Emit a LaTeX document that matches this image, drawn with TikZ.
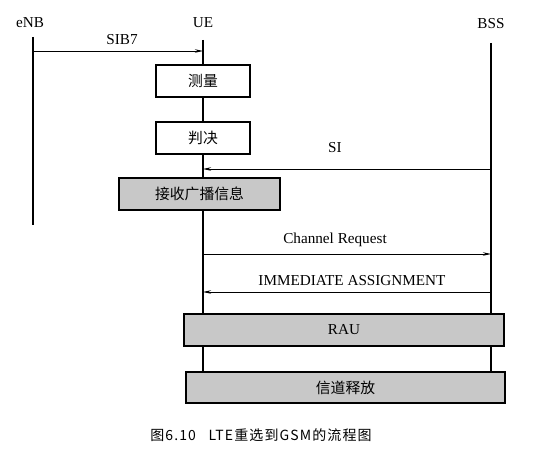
\documentclass[tikz,border=0pt]{standalone}
\usepackage{fontspec}
\setmainfont{Liberation Serif}
\newfontfamily\cjk{Noto Sans CJK SC}
\newfontfamily\capfont[LetterSpace=8]{Noto Sans CJK SC}
\usetikzlibrary{arrows.meta}
\definecolor{boxgray}{RGB}{200,200,200}
\begin{document}
\begin{tikzpicture}[x=1pt,y=-1pt,
  lbl/.style={font=\rmfamily\fontsize{15.2}{17}\selectfont, inner sep=0pt},
  actbox/.style={draw, line width=1.3pt, minimum height=32pt, inner sep=0pt, fill=white, font=\cjk\fontsize{14.8}{16}\selectfont},
  graybox/.style={actbox, fill=boxgray},
  life/.style={line width=1.4pt},
  msg/.style={line width=0.8pt, -{Stealth[length=8pt,width=3.5pt]}}
]
\useasboundingbox (0,0) rectangle (549,460);
% lifeline labels
\node[lbl] (enb) at (30,23) {eNB};
\node[lbl] (ue) at (203,23) {UE};
\node[lbl] (bss) at (491,24) {BSS};
% lifeline coordinates
\coordinate (enbTop) at (33,37);
\coordinate (enbBot) at (33,225);
\coordinate (ueTop) at (203,40);
\coordinate (ueBot) at (203,372);
\coordinate (bssTop) at (491,43);
\coordinate (bssBot) at (491,372);
\draw[life] (enbTop) -- (enbBot);
\draw[life] (ueTop) -- (ueBot);
\draw[life] (bssTop) -- (bssBot);
% message endpoints
\coordinate (sibA) at (33,51);
\coordinate (sibB) at (203,51);
\coordinate (siA) at (491,169);
\coordinate (siB) at (203,169);
\coordinate (crA) at (203,254);
\coordinate (crB) at (491,254);
\coordinate (iaA) at (491,292);
\coordinate (iaB) at (203,292);
\draw[msg] (sibA) -- (sibB);
\draw[msg] (siA) -- (siB);
\draw[msg] (crA) -- (crB);
\draw[msg] (iaA) -- (iaB);
\node[lbl] (sibL) at (122,40) {SIB7};
\node[lbl] (siL) at (335,148) {SI};
\node[lbl] (crL) at (335,240) {Channel Request};
\node[lbl] (iaL) at (352,281) {IMMEDIATE ASSIGNMENT};
% boxes
\node[actbox, minimum width=94pt] (meas) at (203,81) {测量};
\node[actbox, minimum width=94pt] (dec) at (203,138) {判决};
\node[graybox, minimum width=161pt] (recv) at (199.5,194) {接收广播信息};
\node[graybox, minimum width=320pt, font=\rmfamily\fontsize{15.2}{17}\selectfont] (rau) at (344,330) {RAU};
\node[graybox, minimum width=319pt, minimum height=31pt] (rel) at (345.5,387.5) {信道释放};
% caption
\node[inner sep=0pt, font=\capfont\fontsize{14}{16}\selectfont] (cap) at (261,435) {图6.10\hspace{0.9em}LTE重选到GSM的流程图};
\end{tikzpicture}
\end{document}
